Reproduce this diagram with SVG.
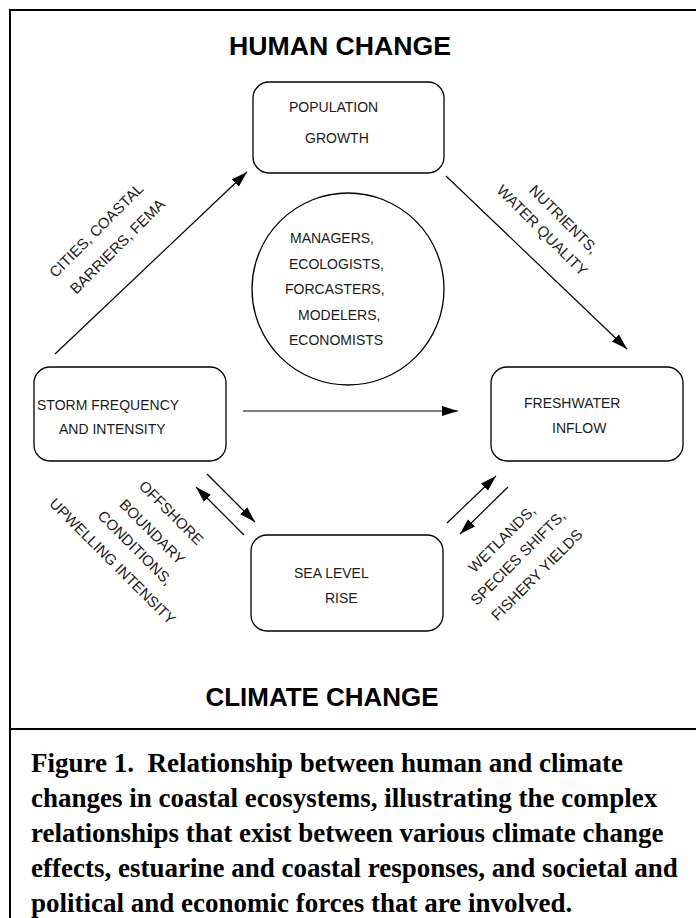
<svg xmlns="http://www.w3.org/2000/svg" width="696" height="918" viewBox="0 0 696 918">
<style>
.bg{fill:#fff}
.frame{stroke:#000;stroke-width:2;fill:none}
.box{fill:none;stroke:#000;stroke-width:1.3}
.t{font-family:"Liberation Sans",Arial,sans-serif;font-size:14px;fill:#1a1a1a}
.r{font-family:"Liberation Sans",Arial,sans-serif;font-size:15px;fill:#1a1a1a;text-anchor:middle}
.h{font-family:"Liberation Sans",Arial,sans-serif;font-size:26px;font-weight:bold;fill:#000;text-anchor:middle}
.cap{font-family:"Liberation Serif","Times New Roman",serif;font-size:27px;font-weight:bold;fill:#000}
.ln{stroke:#000;stroke-width:1.2;fill:none}
</style>
<defs>
<marker id="ah" markerUnits="userSpaceOnUse" markerWidth="17" markerHeight="11" refX="16" refY="5" orient="auto">
<path d="M0,0 L16,5 L0,10 z" fill="#000"/>
</marker>
</defs>
<rect class="bg" x="0" y="0" width="696" height="918"/>
<g id="frame">
<path class="frame" d="M10,918 V10 H696"/>
<line class="frame" x1="10" y1="729" x2="696" y2="729"/>
</g>
<g id="titles">
<text class="h" x="340" y="55" textLength="222" lengthAdjust="spacingAndGlyphs">HUMAN CHANGE</text>
<text class="h" x="322" y="706" textLength="233" lengthAdjust="spacingAndGlyphs">CLIMATE CHANGE</text>
</g>
<g id="population">
<rect class="box" x="253" y="82" width="191" height="91" rx="16"/>
<text class="t" x="289" y="112">POPULATION</text>
<text class="t" x="305" y="143">GROWTH</text>
</g>
<g id="actors">
<circle class="box" cx="348" cy="289" r="96"/>
<text class="t" x="290" y="243">MANAGERS,</text>
<text class="t" x="289" y="269">ECOLOGISTS,</text>
<text class="t" x="285" y="294">FORCASTERS,</text>
<text class="t" x="298" y="320">MODELERS,</text>
<text class="t" x="289" y="345">ECONOMISTS</text>
</g>
<g id="storm">
<rect class="box" x="34" y="367" width="192" height="94" rx="16"/>
<text class="t" x="37" y="410">STORM FREQUENCY</text>
<text class="t" x="59" y="434">AND INTENSITY</text>
</g>
<g id="freshwater">
<rect class="box" x="491" y="367" width="192" height="94" rx="16"/>
<text class="t" x="524" y="408">FRESHWATER</text>
<text class="t" x="552" y="433">INFLOW</text>
</g>
<g id="sealevel">
<rect class="box" x="251" y="535" width="192" height="96" rx="16"/>
<text class="t" x="294" y="578">SEA LEVEL</text>
<text class="t" x="325" y="603">RISE</text>
</g>
<g id="connectors">
<line class="ln" x1="55" y1="354" x2="247" y2="172" marker-end="url(#ah)"/>
<line class="ln" x1="446" y1="176" x2="627" y2="349" marker-end="url(#ah)"/>
<line class="ln" x1="243" y1="411" x2="458" y2="411" marker-end="url(#ah)"/>
<line class="ln" x1="207" y1="474" x2="255" y2="522" marker-end="url(#ah)"/>
<line class="ln" x1="244" y1="535" x2="196" y2="487" marker-end="url(#ah)"/>
<line class="ln" x1="447" y1="523" x2="496" y2="476" marker-end="url(#ah)"/>
<line class="ln" x1="508" y1="487" x2="460" y2="534" marker-end="url(#ah)"/>
</g>
<g id="labels">
<text class="r" transform="translate(100,234) rotate(-45)">CITIES, COASTAL</text>
<text class="r" transform="translate(121,250) rotate(-45)">BARRIERS, FEMA</text>
<text class="r" transform="translate(560,223) rotate(45)">NUTRIENTS,</text>
<text class="r" transform="translate(538.5,234) rotate(45)">WATER QUALITY</text>
<text class="r" transform="translate(167.5,516.5) rotate(45)">OFFSHORE</text>
<text class="r" transform="translate(148.5,535.5) rotate(45)">BOUNDARY</text>
<text class="r" transform="translate(131.5,551.5) rotate(45)">CONDITIONS,</text>
<text class="r" transform="translate(109,565) rotate(45)">UPWELLING INTENSITY</text>
<text class="r" transform="translate(505.5,542.5) rotate(-45)">WETLANDS,</text>
<text class="r" transform="translate(521.5,561.5) rotate(-45)">SPECIES SHIFTS,</text>
<text class="r" transform="translate(540.5,578.5) rotate(-45)">FISHERY YIELDS</text>
</g>
<g id="caption">
<text class="cap" x="31" y="772">Figure 1.&#160; Relationship between human and climate</text>
<text class="cap" x="31" y="807">changes in coastal ecosystems, illustrating the complex</text>
<text class="cap" x="31" y="842">relationships that exist between various climate change</text>
<text class="cap" x="31" y="877">effects, estuarine and coastal responses, and societal and</text>
<text class="cap" x="31" y="912">political and economic forces that are involved.</text>
</g>
</svg>
